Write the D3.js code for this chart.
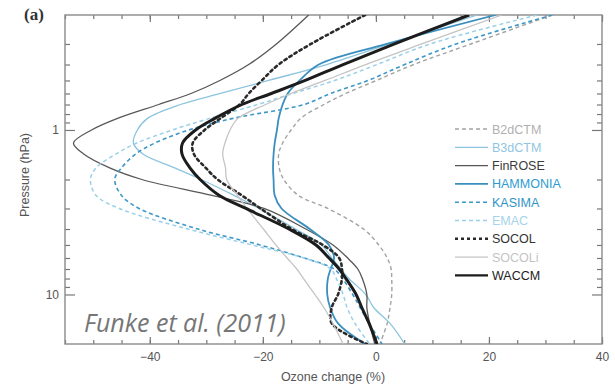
<!DOCTYPE html>
<html><head><meta charset="utf-8">
<script src="https://cdn.jsdelivr.net/npm/d3@7"></script>
<style>body{margin:0;background:#fff}svg{display:block}</style>
</head><body>
<svg id="c" width="615" height="387"></svg>
<script>
const pressures = [0.2,0.3,0.4,0.5,0.6,0.7,0.85,1.0,1.2,1.4,1.7,2,2.5,3,4,5,6,7,8,10,12,15,20];
const B2dCTM   = [31.2,16.8,6.7,0.1,-5.3,-9.2,-13.3,-15.0,-16.5,-17.2,-17.1,-16.3,-13.7,-8.5,-2.2,0.5,2.0,2.7,2.8,2.8,2.5,2.0,0.7];
const B3dCTM   = [17.9,2.4,-8.7,-19.0,-27.5,-34.6,-40.4,-42.2,-42.9,-41.2,-35.6,-30.9,-25.1,-20.7,-14.2,-9.6,-7.8,-6.2,-4.8,-1.8,-0.4,2.5,5.1];
const FinROSE  = [-11.9,-17.6,-22.5,-27.6,-32.7,-38.4,-45.7,-50.3,-53.5,-51.7,-47.1,-41.4,-29.0,-19.8,-12.4,-7.6,-5.0,-3.2,-2.4,-1.6,-1.6,-1.1,-0.2];
const HAMMONIA = [21.2,1.9,-10.1,-13.5,-15.6,-16.5,-17.2,-17.5,-17.9,-18.1,-18.2,-18.1,-17.9,-16.7,-11.7,-8.3,-7.4,-8.0,-8.5,-8.6,-8.1,-6.7,-1.9];
const KASIMA   = [31.2,14.2,5.1,-1.4,-8.0,-12.7,-25.3,-33.1,-39.1,-42.5,-45.0,-46.2,-45.0,-41.9,-31.5,-20.5,-12.7,-7.4,-5.9,-4.1,-2.8,-1.2,1.1];
const EMAC     = [28.5,9.6,0.2,-7.3,-14.7,-20.9,-29.4,-36.0,-42.3,-46.0,-49.5,-50.5,-49.5,-45.4,-33.3,-21.9,-12.7,-8.0,-7.0,-5.8,-5.1,-3.7,-1.1];
const SOCOL    = [-1.9,-11.5,-17.2,-20.2,-22.5,-24.1,-27.5,-30.3,-32.4,-32.2,-30.1,-28.0,-23.7,-20.4,-14.9,-9.4,-6.5,-6.0,-6.0,-6.7,-7.8,-7.8,-1.6];
const SOCOLi   = [22.3,8.1,-1.8,-9.0,-15.0,-19.5,-24.4,-25.8,-26.7,-27.1,-26.6,-26.4,-24.5,-22.8,-19.9,-17.7,-15.7,-14.0,-12.8,-10.8,-9.2,-7.6,-5.8];
const WACCM    = [16.5,3.3,-5.8,-12.5,-18.5,-23.7,-28.5,-31.9,-34.2,-34.3,-32.9,-31.1,-27.7,-23.0,-15.4,-10.6,-8.3,-6.5,-5.3,-3.5,-2.5,-1.2,0.2];

const seriesNames = ["B2dCTM","B3dCTM","FinROSE","HAMMONIA","KASIMA","EMAC","SOCOL","SOCOLi","WACCM"];
const seriesValues = [B2dCTM,B3dCTM,FinROSE,HAMMONIA,KASIMA,EMAC,SOCOL,SOCOLi,WACCM];
const xMajorTicks = [-40,-20,0,20,40];
const yMajorTicks = [1,10];

const styles = {
  B2dCTM:  {color:"#a3a3a3", text:"#b0b0b0", w:1.4, dash:"4,3"},
  B3dCTM:  {color:"#8cc4de", text:"#8fc6df", w:1.3, dash:null},
  FinROSE: {color:"#575757", text:"#3c3c3c", w:1.3, dash:null},
  HAMMONIA:{color:"#3a8fbf", text:"#2b9bd0", w:1.8, dash:null},
  KASIMA:  {color:"#3f97c8", text:"#2f95c8", w:1.6, dash:"4,3"},
  EMAC:    {color:"#9ad0e8", text:"#a5d3ea", w:1.5, dash:"4,3"},
  SOCOL:   {color:"#2a2a2a", text:"#333333", w:2.6, dash:"2.5,3.5"},
  SOCOLi:  {color:"#c4c4c4", text:"#c4c4c4", w:1.3, dash:null},
  WACCM:   {color:"#1c1c1c", text:"#222222", w:3.0, dash:null}
};

const svg = d3.select("#c");
const L=65, R=602, T=15, B=344;
const x = d3.scaleLinear().domain([-55,40]).range([L,R]);
const y = d3.scaleLog().domain([0.2,20]).range([T,B]);

svg.append("defs").append("clipPath").attr("id","clip")
  .append("rect").attr("x",L).attr("y",T).attr("width",R-L).attr("height",B-T);

const axisColor="#8a8a8a";
const xMinor = d3.range(-55,41,5);
const yMinor = [0.3,0.4,0.5,0.6,0.7,0.8,0.9,2,3,4,5,6,7,8,9];

function styleAxis(g){
  g.select(".domain").remove();
  g.selectAll("line").attr("stroke","#777").attr("stroke-width",1.2);
  g.selectAll("text").attr("fill","#555").attr("font-family","Liberation Sans, Arial, sans-serif").attr("font-size",12);
}
// bottom
svg.append("g").attr("transform",`translate(0,${B})`).call(d3.axisBottom(x).tickValues(xMinor).tickSize(-4).tickFormat("")).call(styleAxis);
svg.append("g").attr("transform",`translate(0,${B})`).call(d3.axisBottom(x).tickValues(xMajorTicks).tickSize(-7).tickPadding(8).tickFormat(d3.format("d"))).call(styleAxis);
// top
svg.append("g").attr("transform",`translate(0,${T})`).call(d3.axisTop(x).tickValues(xMinor).tickSize(-4).tickFormat("")).call(styleAxis);
svg.append("g").attr("transform",`translate(0,${T})`).call(d3.axisTop(x).tickValues(xMajorTicks).tickSize(-7).tickFormat("")).call(styleAxis);
// left
svg.append("g").attr("transform",`translate(${L},0)`).call(d3.axisLeft(y).tickValues(yMinor).tickSize(-5).tickFormat("")).call(styleAxis);
svg.append("g").attr("transform",`translate(${L},0)`).call(d3.axisLeft(y).tickValues(yMajorTicks).tickSize(-10).tickPadding(6).tickFormat(d3.format("d"))).call(styleAxis);
// right
svg.append("g").attr("transform",`translate(${R},0)`).call(d3.axisRight(y).tickValues(yMinor).tickSize(-5).tickFormat("")).call(styleAxis);
svg.append("g").attr("transform",`translate(${R},0)`).call(d3.axisRight(y).tickValues(yMajorTicks).tickSize(-10).tickFormat("")).call(styleAxis);

svg.append("rect").attr("x",L).attr("y",T).attr("width",R-L).attr("height",B-T)
  .attr("fill","none").attr("stroke",axisColor).attr("stroke-width",1.4);

const line = d3.line().x(d=>x(d[1])).y(d=>y(d[0])).curve(d3.curveCatmullRom.alpha(0.5));
const plot = svg.append("g").attr("clip-path","url(#clip)");
seriesNames.forEach((n,i)=>{
  const s = styles[n];
  const data = pressures.map((p,j)=>[p,seriesValues[i][j]]);
  plot.append("path").datum(data).attr("d",line)
    .attr("fill","none").attr("stroke",s.color).attr("stroke-width",s.w)
    .attr("stroke-dasharray",s.dash).attr("stroke-linecap", n==="SOCOL"?"round":"butt");
});

// legend
const lg = svg.append("g");
seriesNames.forEach((n,i)=>{
  const s = styles[n];
  const yy = 129 + i*18.3;
  lg.append("line").attr("x1",455).attr("x2",488).attr("y1",yy).attr("y2",yy)
    .attr("stroke",s.color).attr("stroke-width",Math.min(s.w,2.4)).attr("stroke-dasharray",n==="SOCOL"?"3,3":s.dash);
  lg.append("text").attr("x",492).attr("y",yy+4.5).text(n)
    .attr("fill",s.text).attr("font-family","Liberation Sans, Arial, sans-serif").attr("font-size",12.5);
});

// labels
svg.append("text").attr("x",333).attr("y",381).attr("text-anchor","middle")
  .attr("font-family","Liberation Sans, Arial, sans-serif").attr("font-size",12.5).attr("fill","#555")
  .text("Ozone change (%)");
svg.append("text").attr("transform","translate(29,175) rotate(-90)").attr("text-anchor","middle")
  .attr("font-family","Liberation Sans, Arial, sans-serif").attr("font-size",12.5).attr("fill","#555")
  .text("Pressure (hPa)");
svg.append("text").attr("x",24).attr("y",20)
  .attr("font-family","Liberation Serif, Times New Roman, serif").attr("font-weight","bold").attr("font-size",17).attr("fill","#333")
  .text("(a)");
svg.append("text").attr("x",84).attr("y",332)
  .attr("font-family","Open Sans, sans-serif").attr("font-style","italic").attr("font-size",25).attr("fill","#767676")
  .text("Funke et al. (2011)");
</script>
</body></html>
